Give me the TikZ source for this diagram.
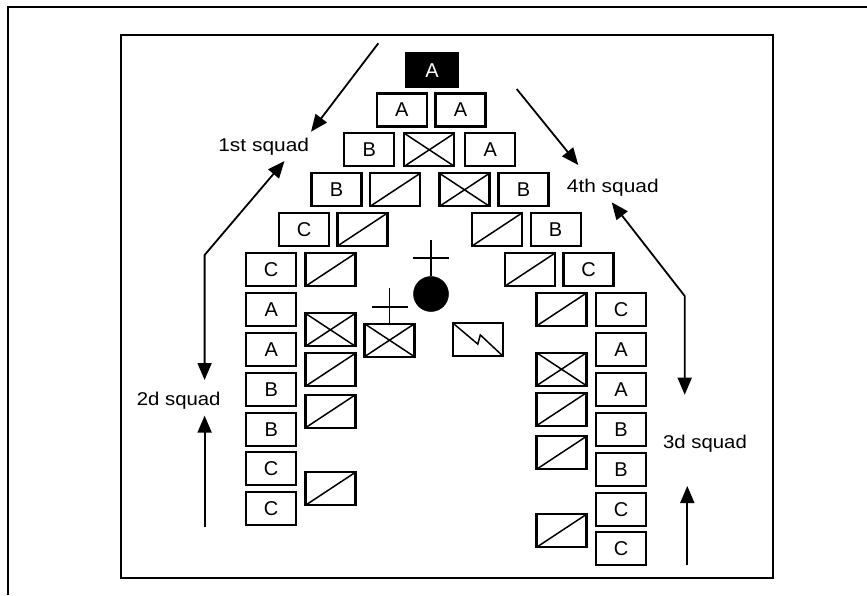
\documentclass[tikz,border=0pt]{standalone}
\usepackage{fontspec}
\usepackage{graphicx}
\setmainfont{Liberation Sans}
\usetikzlibrary{arrows.meta}
\begin{document}
\begin{tikzpicture}[x=1pt,y=-1pt,
  box/.style={draw, line width=2.2pt, minimum width=50pt, minimum height=33pt, inner sep=0pt, font=\fontsize{20}{20}\selectfont},
  diag/.style={box, path picture={\draw[line width=1.5pt] (path picture bounding box.south west) -- (path picture bounding box.north east);}},
  xbox/.style={box, path picture={\draw[line width=1.5pt] (path picture bounding box.south west) -- (path picture bounding box.north east) (path picture bounding box.north west) -- (path picture bounding box.south east);}},
  zigline/.style={line width=1.5pt, line join=miter},
  lbl/.style={anchor=base, inner sep=0pt, font=\fontsize{18.5}{18.5}\selectfont},
  arr/.style={line width=1.8pt, -{Triangle[length=17pt,width=14pt]}},
  darr/.style={line width=1.8pt, {Triangle[length=17pt,width=14pt]}-{Triangle[length=17pt,width=14pt]}},
  crossline/.style={line width=1.6pt}
]
\useasboundingbox (0,0) rectangle (867,595);
% frames
\draw[line width=2.2pt] (8,595) -- (8,7) -- (867,7);
\draw[line width=2.2pt] (120.6,35.3) rectangle (773,577.6);

% wedge rows
\node[box, fill=black, text=white, minimum width=52pt, minimum height=34pt] (r1) at (432,70.3) {A};
\node[box] (r2a) at (401.7,110) {A};
\node[box] (r2b) at (460.5,110) {A};
\node[box]  (r3a) at (369.2,149.8) {B};
\node[xbox] (r3b) at (429.3,149.8) {};
\node[box]  (r3c) at (490.3,149.8) {A};
\node[box]  (r4a) at (336.5,189.8) {B};
\node[diag] (r4b) at (395.2,189.8) {};
\node[xbox] (r4c) at (464.5,189.8) {};
\node[box]  (r4d) at (523.5,189.8) {B};
\node[box]  (r5a) at (304,229.5) {C};
\node[diag] (r5b) at (362.5,229.5) {};
\node[diag] (r5c) at (497,229.5) {};
\node[box]  (r5d) at (555.6,229.5) {B};
\node[box]  (r6a) at (271.2,269.8) {C};
\node[diag] (r6b) at (330.4,269.8) {};
\node[diag] (r6c) at (529.7,269.8) {};
\node[box]  (r6d) at (588.5,269.8) {C};

% left column
\node[box] (l1) at (271.2,309.5) {A};
\node[box] (l2) at (271.2,349.5) {A};
\node[box] (l3) at (271.2,389.2) {B};
\node[box] (l4) at (271.2,429.2) {B};
\node[box] (l5) at (271.2,468.5) {C};
\node[box] (l6) at (271.2,508.3) {C};
\node[xbox] (li1) at (330.4,329.8) {};
\node[diag] (li2) at (330.4,369.8) {};
\node[diag] (li3) at (330.4,411.3) {};
\node[diag] (li4) at (330.4,488.8) {};

% right column
\node[box] (ro1) at (621,309.5) {C};
\node[box] (ro2) at (621,349.5) {A};
\node[box] (ro3) at (621,389.8) {A};
\node[box] (ro4) at (621,429.8) {B};
\node[box] (ro5) at (621,469.7) {B};
\node[box] (ro6) at (621,509.7) {C};
\node[box] (ro7) at (621,548.8) {C};
\node[diag] (ri1) at (561.5,309.5) {};
\node[xbox] (ri2) at (561.5,369.2) {};
\node[diag] (ri3) at (561.5,409.2) {};
\node[diag] (ri4) at (561.5,452.8) {};
\node[diag] (ri5) at (561.5,530.8) {};

% centre
\node[circle, fill=black, draw=black, line width=0.5pt, minimum size=35pt, inner sep=0pt] (hq) at (431,294) {};
\coordinate (hqtop) at (431,240);
\draw[crossline] (hq.north) -- (hqtop);
\draw[crossline] (412.7,257.7) -- (449,257.7);
\node[xbox] (cx) at (389.5,340.2) {};
\coordinate (cxtop) at (389.5,288.3);
\draw[crossline] (cx.north) -- (cxtop);
\draw[crossline] (371.5,306.7) -- (408.3,306.7);
\node[box] (zz) at (477.8,339.5) {};
\draw[zigline] ([shift={(-25,-16.5)}]zz.center) -- ++(25,21.1) -- ++(2.5,-9.2) -- ++(22.5,21.1);

% labels
\node[lbl] (s1) at (263.7,151.7) {\scalebox{1.13}[1]{1st squad}};
\node[lbl] (s4) at (612.8,192.3) {\scalebox{1.13}[1]{4th squad}};
\node[lbl] (s2) at (178.7,405) {\scalebox{1.1}[1]{2d squad}};
\node[lbl] (s3) at (705,448.5) {\scalebox{1.1}[1]{3d squad}};

% arrows
\coordinate (a1s) at (378.3,43.3);
\coordinate (a1e) at (311,131.7);
\draw[arr] (a1s) -- (a1e);
\coordinate (a2t) at (284.5,161);
\coordinate (a2k) at (204.6,255);
\coordinate (a2b) at (204.6,380);
\draw[darr] (a2t) -- (a2k) -- (a2b);
\coordinate (a3s) at (204.6,526.8);
\coordinate (a3e) at (204.6,415.6);
\draw[arr] (a3s) -- (a3e);
\coordinate (a4s) at (516.7,89);
\coordinate (a4e) at (578.3,165);
\draw[arr] (a4s) -- (a4e);
\coordinate (a5t) at (611.7,202.3);
\coordinate (a5k) at (684.7,296);
\coordinate (a5b) at (684.7,394.7);
\draw[darr] (a5t) -- (a5k) -- (a5b);
\coordinate (a6s) at (687.3,565);
\coordinate (a6e) at (687.3,486);
\draw[arr] (a6s) -- (a6e);
\end{tikzpicture}
\end{document}
